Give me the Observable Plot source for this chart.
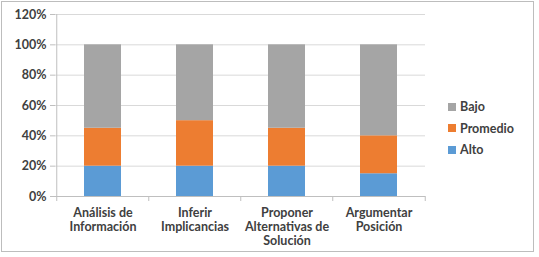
<!DOCTYPE html>
<html><head><meta charset="utf-8">
<script src="https://cdn.jsdelivr.net/npm/d3@7"></script>
<script src="https://cdn.jsdelivr.net/npm/@observablehq/plot@0.6"></script>
<style>
body{margin:0;background:#fff;}
#wrap{position:relative;width:539px;height:257px;font-family:Lato,"Open Sans",sans-serif;}
#frame{position:absolute;left:1px;top:1px;width:533px;height:251px;border:1px solid #bdbdbd;box-sizing:border-box;pointer-events:none;}
#legend{position:absolute;left:448px;top:96px;font-size:12.5px;font-weight:bold;color:#404040;}
#legend div{height:21.5px;display:flex;align-items:center;}
#legend span.sw{display:inline-block;width:8px;height:8px;margin-right:4px;}
</style></head>
<body><div id="wrap"><div id="frame"></div><div id="legend"></div></div>
<script>
const categories = ["Análisis de\nInformación","Inferir\nImplicancias","Proponer\nAlternativas de\nSolución","Argumentar\nPosición"];
const series = ["Alto","Promedio","Bajo"];
const alto = [0.20,0.20,0.20,0.15];
const promedio = [0.25,0.30,0.25,0.25];
const bajo = [0.55,0.50,0.55,0.60];
const yTicks = [0,0.2,0.4,0.6,0.8,1.0,1.2];
const colors = ["#5b9bd5","#ed7d31","#a5a5a5"];

const vals = [alto, promedio, bajo];
const data = [];
series.forEach((s, si) => categories.forEach((c, ci) => data.push({cat: c, serie: s, value: vals[si][ci]})));

const W = 539, H = 257, mL = 55, mR = 114, mT = 14, mB = 61;
const step = (W - mL - mR) / categories.length;
const last = categories[categories.length - 1];

const chart = Plot.plot({
  width: W, height: H,
  marginLeft: mL, marginRight: mR, marginTop: mT, marginBottom: mB,
  style: {fontFamily: "Lato, 'Open Sans', sans-serif", fontSize: "12.5px", fontWeight: "bold", color: "#404040", background: "transparent"},
  x: {domain: categories, paddingInner: 0.6, paddingOuter: 0.3, label: null, axis: null},
  y: {domain: [0, 1.2], ticks: yTicks, label: null, axis: null},
  color: {domain: series, range: colors},
  marks: [
    Plot.gridY(yTicks, {stroke: "#d9d9d9", strokeOpacity: 1}),
    Plot.barY(data, {x: "cat", y: "value", fill: "serie", order: series}),
    Plot.ruleY([0], {stroke: "#bfbfbf"}),
    Plot.axisY(yTicks, {tickFormat: d => Math.round(d*100) + "%", tickSize: 5, tickPadding: 4, stroke: "#bfbfbf", label: null, fill: "#404040"}),
    Plot.ruleX([categories[0]], {dx: -step/2, y1: 0, y2: 1.2, stroke: "#bfbfbf"}),
    Plot.ruleX(categories, {x: d => d, dx: -step/2, y1: 0, y2: 0, stroke: "#bfbfbf", insetBottom: -5}),
    Plot.ruleX([last], {dx: step/2, stroke: "#bfbfbf", y1: 0, y2: 0, insetBottom: -5}),
    Plot.axisX({tickSize: 0, tickPadding: 10, lineHeight: 1.15, label: null, fill: "#404040", textAnchor: "middle"})
  ]
});
document.getElementById("wrap").prepend(chart);

const leg = document.getElementById("legend");
[...series].reverse().forEach(s => {
  const d = document.createElement("div");
  d.innerHTML = `<span class="sw" style="background:${colors[series.indexOf(s)]}"></span>${s}`;
  leg.appendChild(d);
});
</script></body></html>
